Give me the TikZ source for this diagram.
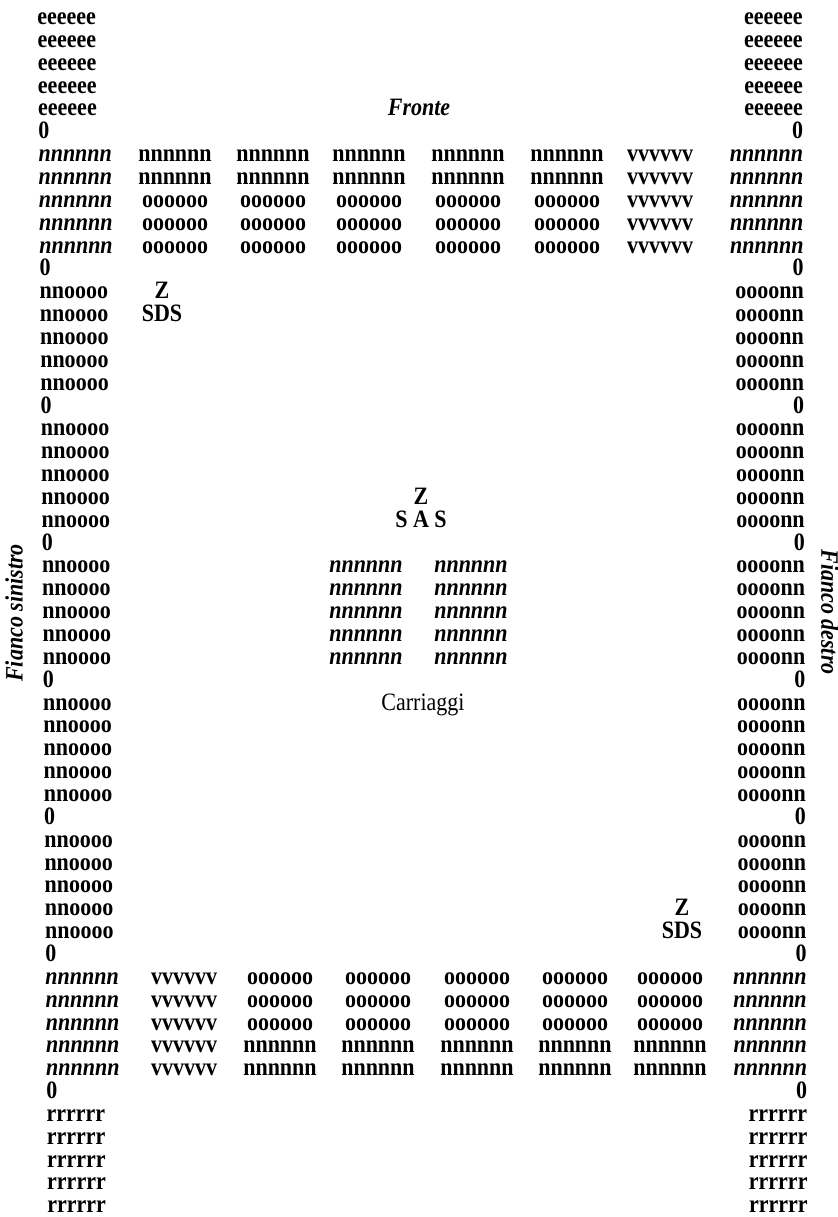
\documentclass[tikz,border=0pt]{standalone}
\usepackage{fontspec}
\setmainfont{Liberation Serif}[FakeStretch=0.88]
\usepackage{tikz}

% row and edge positions (pixels of the page)
\newcommand{\rowy}[1]{\fpeval{20+(#1-1)*22.85}}
\newcommand{\lx}[1]{\fpeval{37+10*(#1-1)/52}}
\newcommand{\rx}[1]{\fpeval{803+5*(#1-1)/52}}

\begin{document}
\begin{tikzpicture}[
    x=0.5pt, y=-0.5pt,
    font=\fontsize{12.5pt}{14pt}\selectfont\bfseries,
    cell/.style={inner sep=0pt, anchor=mid},
    lcol/.style={cell, anchor=mid west},
    rcol/.style={cell, anchor=mid east},
    ital/.style={font=\fontsize{12.5pt}{14pt}\selectfont\bfseries\itshape},
    plain/.style={font=\fontsize{12.5pt}{14pt}\selectfont\mdseries}]

    \useasboundingbox (0,0) rectangle (838,1217);

    % head
    \foreach \i in {1,...,5} {
        \node[lcol] (el\i) at (\lx{\i},\rowy{\i}) {eeeeee};
        \node[rcol] (er\i) at (\rx{\i},\rowy{\i}) {eeeeee};
    }
    \node[cell, ital] (fronte) at (419,\rowy{5}) {Fronte};

    % separators
    \foreach \i in {6,12,18,24,30,36,42,48} {
        \node[lcol] (zl\i) at (\lx{\i},\rowy{\i}) {0};
        \node[rcol] (zr\i) at (\rx{\i},\rowy{\i}) {0};
    }

    % front
    \foreach \i in {7,...,11} {
        \node[lcol, ital] (fl\i) at (\lx{\i},\rowy{\i}) {nnnnnn};
        \node[rcol, ital] (fr\i) at (\rx{\i},\rowy{\i}) {nnnnnn};
        \node[cell] (fv\i) at (660,\rowy{\i}) {vvvvvv};
    }
    \foreach \i in {7,8}
        \foreach \cx [count=\k] in {175,273,369,468,567}
            \node[cell] (f\i-\k) at (\cx,\rowy{\i}) {nnnnnn};
    \foreach \i in {9,10,11}
        \foreach \cx [count=\k] in {175,273,369,468,567}
            \node[cell] (f\i-\k) at (\cx,\rowy{\i}) {oooooo};

    % flanks
    \foreach \b in {12,18,24,30,36}
        \foreach \j in {1,...,5} {
            \pgfmathtruncatemacro{\s}{\b+\j}
            \node[lcol] (sl\s) at (\lx{\s},\rowy{\s}) {nnoooo};
            \node[rcol] (sr\s) at (\rx{\s},\rowy{\s}) {oooonn};
        }
    \node[cell] (zsx) at (162,\rowy{13}) {Z};
    \node[cell] (sdssx) at (162,\rowy{14}) {SDS};
    \node[cell] (zdx) at (682,\rowy{40}) {Z};
    \node[cell] (sdsdx) at (682,\rowy{41}) {SDS};

    % centre
    \node[cell] (zc) at (421,\rowy{22}) {Z};
    \node[cell] (sas) at (421,\rowy{23}) {S A S};
    \foreach \i in {25,...,29} {
        \node[cell, ital] (ca\i) at (366,\rowy{\i}) {nnnnnn};
        \node[cell, ital] (cb\i) at (471,\rowy{\i}) {nnnnnn};
    }
    \node[cell, plain] (carr) at (423,\rowy{31}) {Carriaggi};

    % back
    \foreach \i in {43,...,47} {
        \node[lcol, ital] (bl\i) at (\lx{\i},\rowy{\i}) {nnnnnn};
        \node[rcol, ital] (br\i) at (\rx{\i},\rowy{\i}) {nnnnnn};
        \node[cell] (bv\i) at (184,\rowy{\i}) {vvvvvv};
    }
    \foreach \i in {43,44,45}
        \foreach \cx [count=\k] in {280,378,477,575,670}
            \node[cell] (b\i-\k) at (\cx,\rowy{\i}) {oooooo};
    \foreach \i in {46,47}
        \foreach \cx [count=\k] in {280,378,477,575,670}
            \node[cell] (b\i-\k) at (\cx,\rowy{\i}) {nnnnnn};

    % rear
    \foreach \i in {49,...,53} {
        \node[lcol] (rl\i) at (\lx{\i},\rowy{\i}) {rrrrrr};
        \node[rcol] (rr\i) at (\rx{\i},\rowy{\i}) {rrrrrr};
    }

    % flank titles
    \node[cell, ital, rotate=90] (fsx) at (18,613) {Fianco sinistro};
    \node[cell, ital, rotate=-90] (fdx) at (826,612) {Fianco destro};
\end{tikzpicture}
\end{document}
